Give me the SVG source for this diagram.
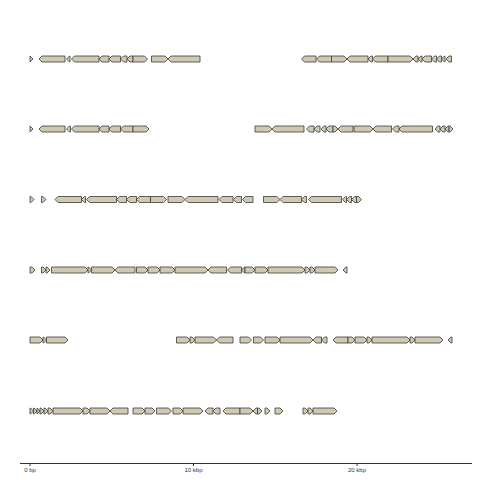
<svg xmlns="http://www.w3.org/2000/svg" width="480" height="480" viewBox="0 0 480 480">
<style>
.gene path{fill:#cfc9b1;stroke:#3a3a3a;stroke-width:0.8;stroke-linejoin:miter}
.axis{stroke:#333;stroke-width:1}
.lbl{font-family:"Liberation Sans",Arial,sans-serif;font-size:6px;fill:#333;text-anchor:middle}
</style>
<rect width="480" height="480" fill="#fff"/>
<g id="row1" class="gene" transform="translate(0,59)">
<path d="M30,-3L33,0L30,3Z"/>
<path d="M65,-3H42L39,0L42,3H65Z"/>
<path d="M70,-3H69.5L66.5,0L69.5,3H70Z"/>
<path d="M99,-3H74.5L71.5,0L74.5,3H99Z"/>
<path d="M109,-3H102L99,0L102,3H109Z"/>
<path d="M120.5,-3H112L109,0L112,3H120.5Z"/>
<path d="M127,-3H123.5L120.5,0L123.5,3H127Z"/>
<path d="M133,-3H130L127,0L130,3H133Z"/>
<path d="M133,-3H144.5L147.5,0L144.5,3H133Z"/>
<path d="M151.5,-3H165L168,0L165,3H151.5Z"/>
<path d="M200,-3H171L168,0L171,3H200Z"/>
<path d="M316,-3H304.5L301.5,0L304.5,3H316Z"/>
<path d="M331.5,-3H319.5L316.5,0L319.5,3H331.5Z"/>
<path d="M331.5,-3H344L347,0L344,3H331.5Z"/>
<path d="M368,-3H350L347,0L350,3H368Z"/>
<path d="M372.5,-3H371L368,0L371,3H372.5Z"/>
<path d="M388,-3H375.5L372.5,0L375.5,3H388Z"/>
<path d="M388,-3H410L413,0L410,3H388Z"/>
<path d="M418,-3H416L413,0L416,3H418Z"/>
<path d="M422,-3H421L418,0L421,3H422Z"/>
<path d="M431.5,-3H425L422,0L425,3H431.5Z"/>
<path d="M436.5,-3H434.5L431.5,0L434.5,3H436.5Z"/>
<path d="M441.5,-3H439.5L436.5,0L439.5,3H441.5Z"/>
<path d="M445,-3H444.5L441.5,0L444.5,3H445Z"/>
<path d="M451.5,-3H449L446,0L449,3H451.5Z"/>
</g>
<g id="row2" class="gene" transform="translate(0,129)">
<path d="M30,-3L33,0L30,3Z"/>
<path d="M65,-3H42L39,0L42,3H65Z"/>
<path d="M70.5,-3H69.5L66.5,0L69.5,3H70.5Z"/>
<path d="M99,-3H74.5L71.5,0L74.5,3H99Z"/>
<path d="M109,-3H102L99,0L102,3H109Z"/>
<path d="M120.5,-3H112L109,0L112,3H120.5Z"/>
<path d="M133,-3H123.5L120.5,0L123.5,3H133Z"/>
<path d="M133,-3H146L149,0L146,3H133Z"/>
<path d="M255,-3H269L272,0L269,3H255Z"/>
<path d="M304,-3H275L272,0L275,3H304Z"/>
<path d="M314,-3H309.5L306.5,0L309.5,3H314Z"/>
<path d="M320,-3H317L314,0L317,3H320Z"/>
<path d="M326,-3H324L321,0L324,3H326Z"/>
<path d="M333,-3H329L326,0L329,3H333Z"/>
<path d="M333,-3H335L338,0L335,3H333Z"/>
<path d="M353,-3H341L338,0L341,3H353Z"/>
<path d="M354,-3H370L373,0L370,3H354Z"/>
<path d="M391.5,-3H376L373,0L376,3H391.5Z"/>
<path d="M399,-3H395.5L392.5,0L395.5,3H399Z"/>
<path d="M432.5,-3H402L399,0L402,3H432.5Z"/>
<path d="M440,-3H438L435,0L438,3H440Z"/>
<path d="M445,-3H443L440,0L443,3H445Z"/>
<path d="M449,-3H448L445,0L448,3H449Z"/>
<path d="M449,-3H450L453,0L450,3H449Z"/>
</g>
<g id="row3" class="gene" transform="translate(0,199.5)">
<path d="M30,-3H31L34,0L31,3H30Z"/>
<path d="M41.5,-3H43L46,0L43,3H41.5Z"/>
<path d="M81.5,-3H58L55,0L58,3H81.5Z"/>
<path d="M85.5,-3H84.5L81.5,0L84.5,3H85.5Z"/>
<path d="M116.5,-3H89.5L86.5,0L89.5,3H116.5Z"/>
<path d="M126.5,-3H119.5L116.5,0L119.5,3H126.5Z"/>
<path d="M136.5,-3H129.5L126.5,0L129.5,3H136.5Z"/>
<path d="M150.5,-3H139.5L136.5,0L139.5,3H150.5Z"/>
<path d="M150.5,-3H163.5L166.5,0L163.5,3H150.5Z"/>
<path d="M168,-3H182L185,0L182,3H168Z"/>
<path d="M218,-3H188L185,0L188,3H218Z"/>
<path d="M233,-3H222L219,0L222,3H233Z"/>
<path d="M241.5,-3H236.5L233.5,0L236.5,3H241.5Z"/>
<path d="M253,-3H245.5L242.5,0L245.5,3H253Z"/>
<path d="M263.5,-3H277L280,0L277,3H263.5Z"/>
<path d="M301.5,-3H283L280,0L283,3H301.5Z"/>
<path d="M306.5,-3H304.5L301.5,0L304.5,3H306.5Z"/>
<path d="M341.5,-3H311.5L308.5,0L311.5,3H341.5Z"/>
<path d="M346.5,-3H345.5L342.5,0L345.5,3H346.5Z"/>
<path d="M351.5,-3H349.5L346.5,0L349.5,3H351.5Z"/>
<path d="M356.5,-3H354.5L351.5,0L354.5,3H356.5Z"/>
<path d="M356.5,-3H358.5L361.5,0L358.5,3H356.5Z"/>
</g>
<g id="row4" class="gene" transform="translate(0,270)">
<path d="M30,-3H32L35,0L32,3H30Z"/>
<path d="M41.5,-3H43L46,0L43,3H41.5Z"/>
<path d="M46,-3H47L50,0L47,3H46Z"/>
<path d="M51.5,-3H85L88,0L85,3H51.5Z"/>
<path d="M88,-3H88.5L91.5,0L88.5,3H88Z"/>
<path d="M91.5,-3H112L115,0L112,3H91.5Z"/>
<path d="M135,-3H118L115,0L118,3H135Z"/>
<path d="M136.5,-3H145L148,0L145,3H136.5Z"/>
<path d="M148,-3H157L160,0L157,3H148Z"/>
<path d="M160,-3H172L175,0L172,3H160Z"/>
<path d="M175,-3H205L208,0L205,3H175Z"/>
<path d="M226.5,-3H211L208,0L211,3H226.5Z"/>
<path d="M241.5,-3H230.5L227.5,0L230.5,3H241.5Z"/>
<path d="M245,-3H244.5L241.5,0L244.5,3H245Z"/>
<path d="M245,-3H252L255,0L252,3H245Z"/>
<path d="M255,-3H265L268,0L265,3H255Z"/>
<path d="M268,-3H302L305,0L302,3H268Z"/>
<path d="M305,-3H307L310,0L307,3H305Z"/>
<path d="M310,-3H312L315,0L312,3H310Z"/>
<path d="M315,-3H335L338,0L335,3H315Z"/>
<path d="M347,-3H346L343,0L346,3H347Z"/>
</g>
<g id="row5" class="gene" transform="translate(0,340)">
<path d="M30,-3H40L43,0L40,3H30Z"/>
<path d="M43,-3H43.5L46.5,0L43.5,3H43Z"/>
<path d="M46.5,-3H65L68,0L65,3H46.5Z"/>
<path d="M176.5,-3H187L190,0L187,3H176.5Z"/>
<path d="M190,-3H192L195,0L192,3H190Z"/>
<path d="M195,-3H213.5L216.5,0L213.5,3H195Z"/>
<path d="M233,-3H219.5L216.5,0L219.5,3H233Z"/>
<path d="M240,-3H248.5L251.5,0L248.5,3H240Z"/>
<path d="M253.5,-3H260.5L263.5,0L260.5,3H253.5Z"/>
<path d="M265,-3H277L280,0L277,3H265Z"/>
<path d="M280,-3H310L313,0L310,3H280Z"/>
<path d="M321.5,-3H316L313,0L316,3H321.5Z"/>
<path d="M327,-3H324.5L321.5,0L324.5,3H327Z"/>
<path d="M348,-3H336L333,0L336,3H348Z"/>
<path d="M348,-3H352L355,0L352,3H348Z"/>
<path d="M355,-3H364L367,0L364,3H355Z"/>
<path d="M367,-3H369L372,0L369,3H367Z"/>
<path d="M372,-3H407L410,0L407,3H372Z"/>
<path d="M410,-3H412L415,0L412,3H410Z"/>
<path d="M415,-3H440L443,0L440,3H415Z"/>
<path d="M452,-3H451L448,0L451,3H452Z"/>
</g>
<g id="row6" class="gene" transform="translate(0,411)">
<path d="M30,-3H30.5L33.5,0L30.5,3H30Z"/>
<path d="M33.5,-3H34L37,0L34,3H33.5Z"/>
<path d="M37,-3L40,0L37,3Z"/>
<path d="M40,-3H41L44,0L41,3H40Z"/>
<path d="M44,-3H45L48,0L45,3H44Z"/>
<path d="M48,-3H50L53,0L50,3H48Z"/>
<path d="M53,-3H80L83,0L80,3H53Z"/>
<path d="M83,-3H87L90,0L87,3H83Z"/>
<path d="M90,-3H107L110,0L107,3H90Z"/>
<path d="M128,-3H113L110,0L113,3H128Z"/>
<path d="M133,-3H142L145,0L142,3H133Z"/>
<path d="M145,-3H152L155,0L152,3H145Z"/>
<path d="M156.5,-3H168.5L171.5,0L168.5,3H156.5Z"/>
<path d="M173,-3H180L183,0L180,3H173Z"/>
<path d="M183,-3H200L203,0L200,3H183Z"/>
<path d="M213,-3H208L205,0L208,3H213Z"/>
<path d="M220,-3H216L213,0L216,3H220Z"/>
<path d="M240,-3H226L223,0L226,3H240Z"/>
<path d="M240,-3H250L253,0L250,3H240Z"/>
<path d="M257.5,-3H256L253,0L256,3H257.5Z"/>
<path d="M257.5,-3H259L262,0L259,3H257.5Z"/>
<path d="M265,-3H267L270,0L267,3H265Z"/>
<path d="M275,-3H280L283,0L280,3H275Z"/>
<path d="M303,-3H305L308,0L305,3H303Z"/>
<path d="M308,-3H310L313,0L310,3H308Z"/>
<path d="M313,-3H334L337,0L334,3H313Z"/>
</g>
<g id="axis">
<line class="axis" x1="20" y1="463.5" x2="472" y2="463.5"/>
<line class="axis" x1="30" y1="463.5" x2="30" y2="466" stroke-width="0.6"/>
<line class="axis" x1="193.5" y1="463.5" x2="193.5" y2="466" stroke-width="0.6"/>
<line class="axis" x1="357" y1="463.5" x2="357" y2="466" stroke-width="0.6"/>
<text class="lbl" x="30" y="472">0 bp</text>
<text class="lbl" x="193.5" y="472">10 kbp</text>
<text class="lbl" x="357" y="472">20 kbp</text>
</g>
</svg>
